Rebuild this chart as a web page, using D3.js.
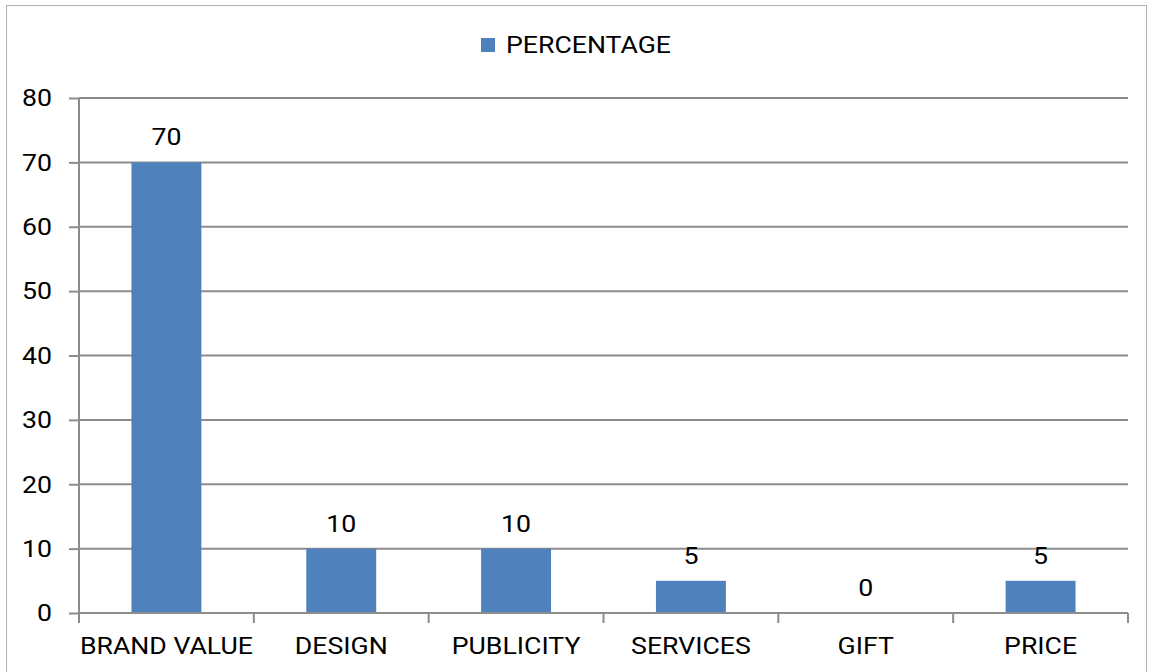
<!DOCTYPE html>
<html><head><meta charset="utf-8">
<script src="https://cdn.jsdelivr.net/npm/d3@7"></script>
<style>
html,body{margin:0;padding:0;background:#fff;}
svg text{font-family:Roboto,"Liberation Sans",sans-serif;fill:#000;}
</style></head>
<body>
<svg id="c" width="1153" height="672"></svg>
<script>
const categories = ["BRAND VALUE","DESIGN","PUBLICITY","SERVICES","GIFT","PRICE"];
const values = [70,10,10,5,0,5];
const seriesName = "PERCENTAGE";
const yTicks = [0,10,20,30,40,50,60,70,80];

(function(){
const svg = d3.select("#c");
const mLeft = 79, mRight = 1128, mTop = 98, mBottom = 613;
const gridColor = "#8c8c8c";
const barColor = "#4f81bd";
const SX = 1.16, FS = 23;

svg.append("rect").attr("x",6.5).attr("y",5.5).attr("width",1140).attr("height",680)
  .attr("fill","#fff").attr("stroke","#b0b0b0").attr("stroke-width",1);

const x = d3.scaleBand().domain(categories).range([mLeft,mRight]).paddingInner(0.6).paddingOuter(0.3);
const xb = d3.scaleBand().domain(categories).range([mLeft,mRight]);
const y = d3.scaleLinear().domain([0,80]).range([mBottom,mTop]);

svg.append("g").selectAll("line").data(yTicks.filter(d=>d>0)).join("line")
  .attr("x1",mLeft).attr("x2",mRight).attr("y1",d=>y(d)).attr("y2",d=>y(d))
  .attr("stroke",gridColor).attr("stroke-width",2);

const yAxis = svg.append("g").attr("transform",`translate(${mLeft},0)`)
  .call(d3.axisLeft(y).tickValues(yTicks).tickSize(10).tickPadding(17));
yAxis.select(".domain").attr("stroke",gridColor).attr("stroke-width",2).attr("d",`M0,${mTop}V${mBottom}`);
yAxis.selectAll(".tick line").attr("stroke",gridColor).attr("stroke-width",2);
yAxis.selectAll("text").attr("font-size",FS).attr("font-family","Roboto").attr("fill","#000")
  .attr("x",null).attr("dy",null).attr("dominant-baseline","central")
  .attr("transform",`translate(-27,0) scale(${SX},1)`);

svg.append("g").selectAll("rect").data(values).join("rect")
  .attr("x",(d,i)=>x(categories[i])).attr("width",x.bandwidth())
  .attr("y",d=>y(d)).attr("height",d=>y(0)-y(d)).attr("fill",barColor);

const xAxis = svg.append("g").attr("transform",`translate(0,${mBottom})`);
xAxis.append("line").attr("x1",mLeft).attr("x2",mRight).attr("stroke",gridColor).attr("stroke-width",2);
const bounds = categories.map(c=>xb(c)).concat([mRight]);
xAxis.selectAll("line.tk").data(bounds).join("line").attr("class","tk")
  .attr("x1",d=>d).attr("x2",d=>d).attr("y1",0).attr("y2",10)
  .attr("stroke",gridColor).attr("stroke-width",2);
xAxis.selectAll("text").data(categories).join("text")
  .attr("transform",d=>`translate(${xb(d)+xb.bandwidth()/2},41) scale(${SX},1)`)
  .attr("text-anchor","middle").attr("font-size",FS).text(d=>d);

svg.append("g").selectAll("text").data(values).join("text")
  .attr("transform",(d,i)=>`translate(${x(categories[i])+x.bandwidth()/2},${y(d)-17}) scale(${SX},1)`)
  .attr("text-anchor","middle").attr("font-size",FS).text(d=>d);

const lg = svg.append("g");
lg.append("rect").attr("x",481).attr("y",38).attr("width",14).attr("height",14).attr("fill",barColor);
lg.append("text").attr("transform",`translate(506,53) scale(${SX},1)`).attr("font-size",FS).text(seriesName);
})();
</script>
</body></html>
